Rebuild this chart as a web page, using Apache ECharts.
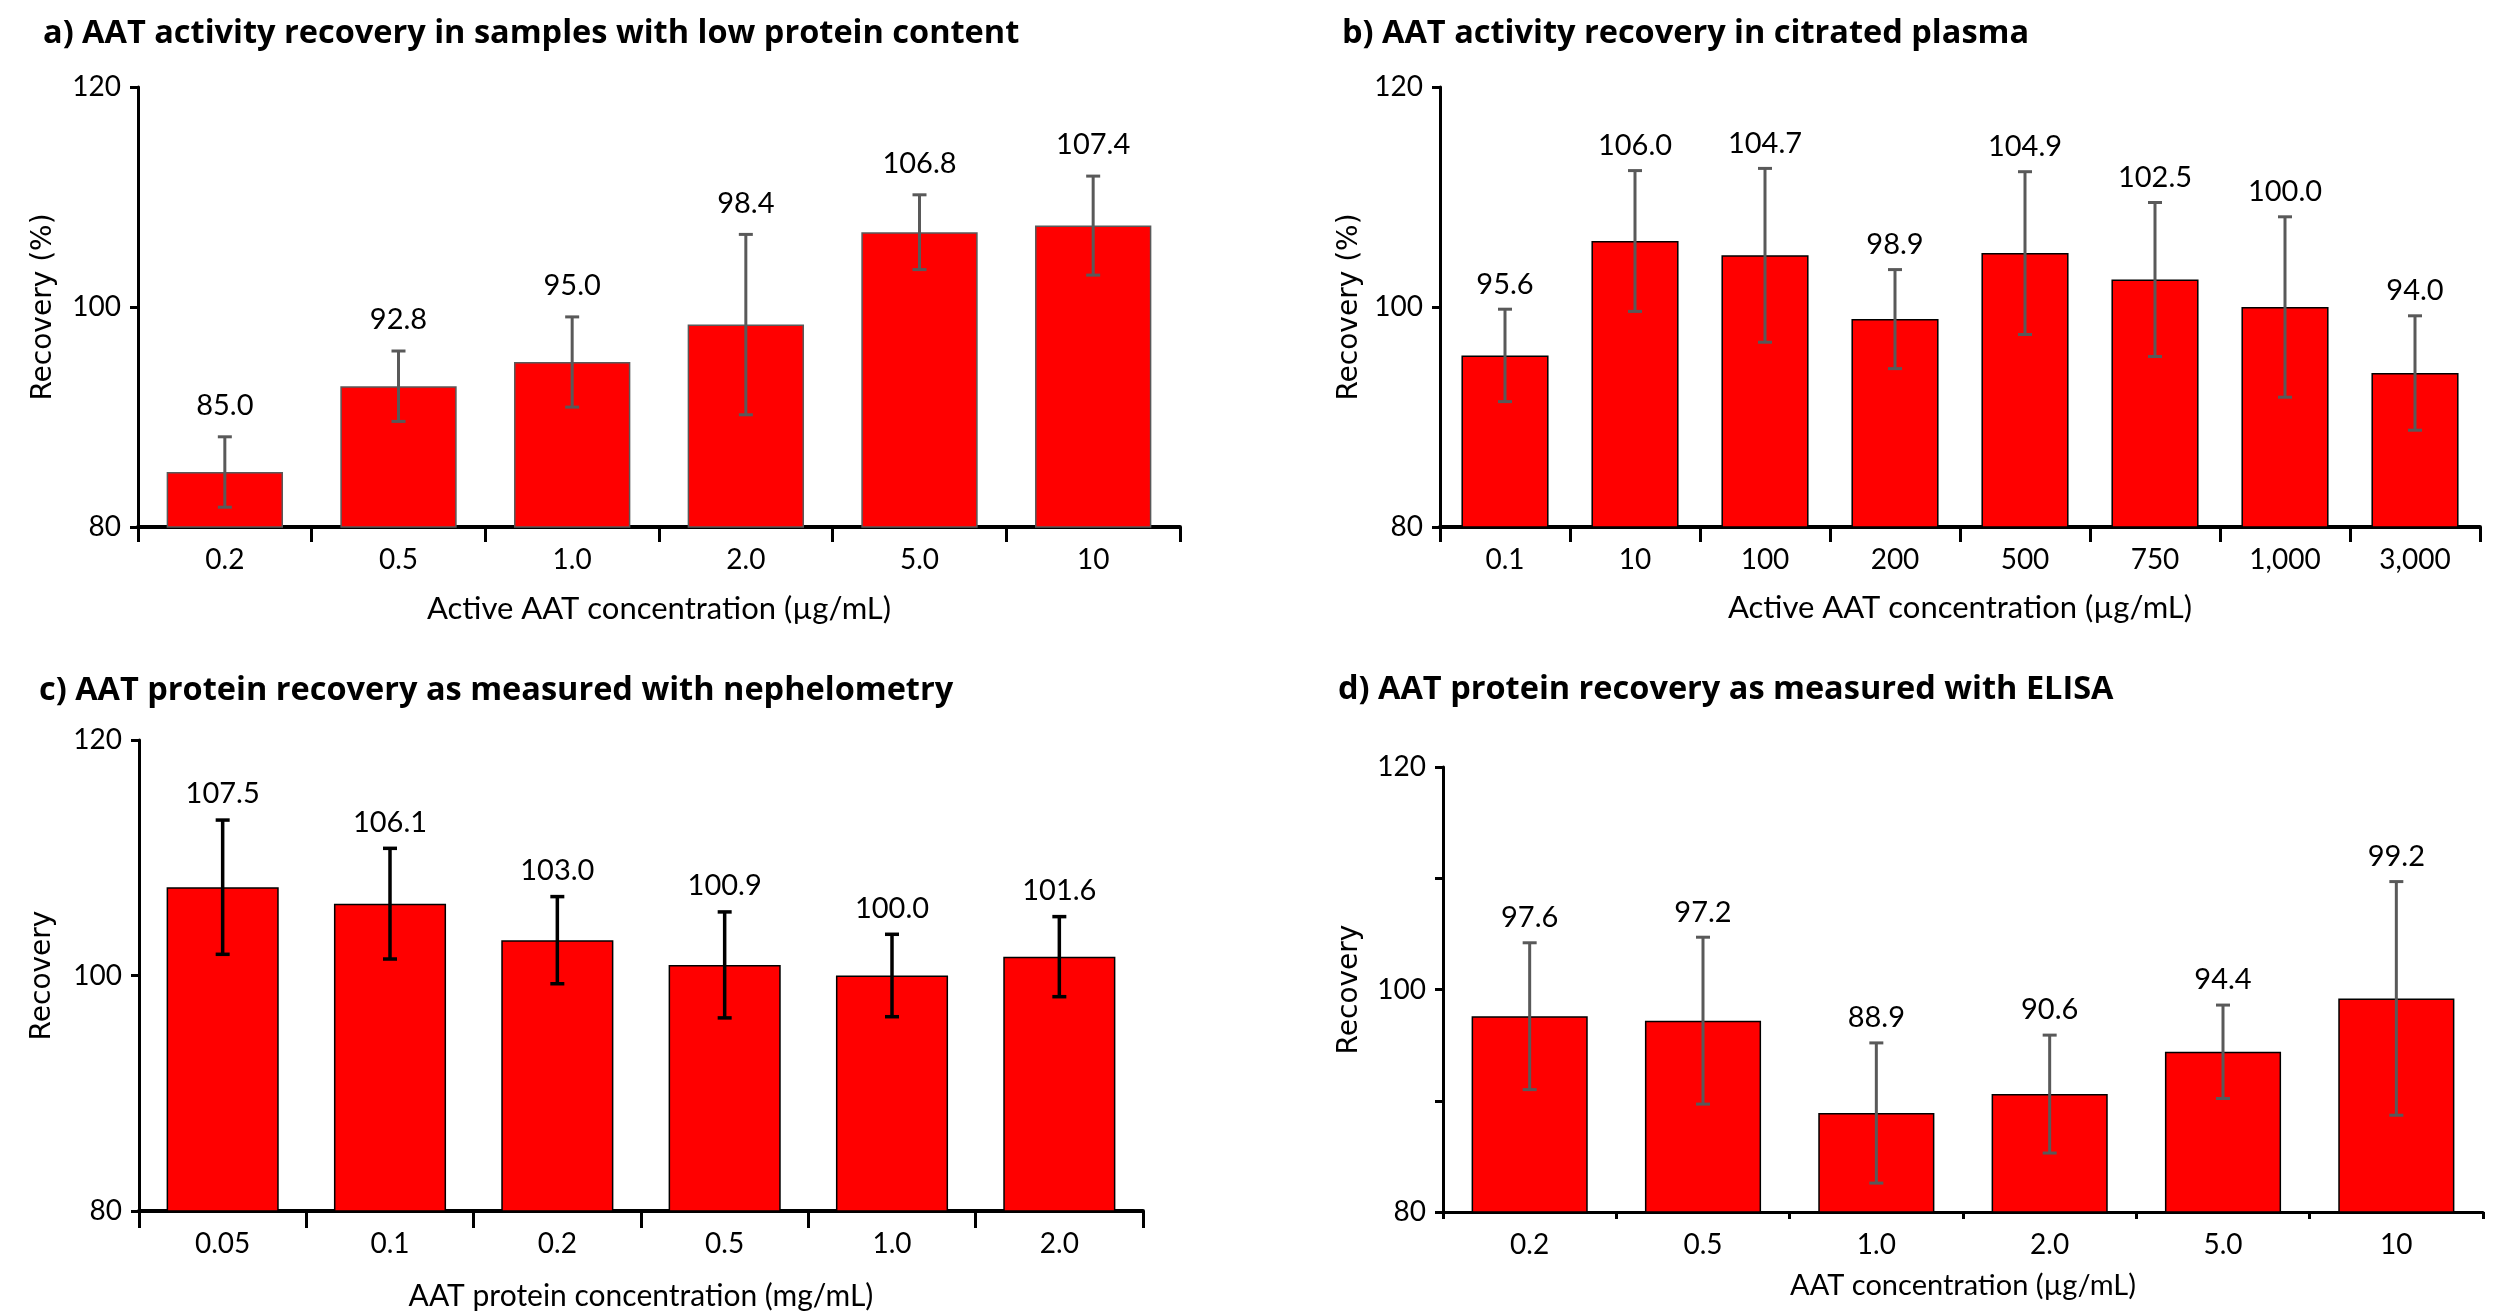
<!DOCTYPE html>
<html>
<head>
<meta charset="utf-8">
<script src="https://cdn.jsdelivr.net/npm/echarts@6/dist/echarts.min.js"></script>
<style>
html,body{margin:0;padding:0;background:#fff;}
#chart{width:2508px;height:1316px;}
</style>
</head>
<body>
<div id="chart"></div>
<script>
// ---- Data ----
const catsA = ['0.2','0.5','1.0','2.0','5.0','10'];
const valsA = [85.0, 92.8, 95.0, 98.4, 106.8, 107.4];
const errA  = [3.2, 3.2, 4.1, 8.2, 3.4, 4.5];

const catsB = ['0.1','10','100','200','500','750','1,000','3,000'];
const valsB = [95.6, 106.0, 104.7, 98.9, 104.9, 102.5, 100.0, 94.0];
const errB  = [4.2, 6.4, 7.9, 4.5, 7.4, 7.0, 8.2, 5.2];

const catsC = ['0.05','0.1','0.2','0.5','1.0','2.0'];
const valsC = [107.5, 106.1, 103.0, 100.9, 100.0, 101.6];
const errC  = [5.7, 4.7, 3.7, 4.5, 3.5, 3.4];

const catsD = ['0.2','0.5','1.0','2.0','5.0','10'];
const valsD = [97.6, 97.2, 88.9, 90.6, 94.4, 99.2];
const errD  = [6.6, 7.5, 6.3, 5.3, 4.2, 10.5];

const yLabels = [80, 100, 120];

const titles = [
  'a) AAT activity recovery in samples with low protein content',
  'b) AAT activity recovery in citrated plasma',
  'c) AAT protein recovery as measured with nephelometry',
  'd) AAT protein recovery as measured with ELISA'
];
const xNames = [
  'Active AAT concentration (\u00b5g/mL)',
  'Active AAT concentration (\u00b5g/mL)',
  'AAT protein concentration (mg/mL)',
  'AAT concentration (\u00b5g/mL)'
];
const yNames = ['Recovery (%)', 'Recovery (%)', 'Recovery', 'Recovery'];

// ---- Chart ----
const FONT = 'Lato';
const chart = echarts.init(document.getElementById('chart'), null, {renderer:'canvas'});

const grids = [
  {left:138, top:87, width:1042, height:440},
  {left:1440, top:87, width:1040, height:440},
  {left:139, top:740, width:1004, height:471},
  {left:1443, top:767, width:1040, height:445}
];

const panels = [
  {cats:catsA, vals:valsA, errs:errA, errColor:'#595959', border:'#595959', axisW:4, xTick:15, yInt:20, nameGap:66, nameSize:31, yNameGap:80, labOff:31, errW:3},
  {cats:catsB, vals:valsB, errs:errB, errColor:'#595959', border:'#000', axisW:4, xTick:15, yInt:20, nameGap:65, nameSize:31, yNameGap:76, labOff:25, errW:3},
  {cats:catsC, vals:valsC, errs:errC, errColor:'#000', border:'#000', axisW:4, xTick:17, yInt:20, nameGap:70, nameSize:30, yNameGap:82, labOff:26, errW:3.5},
  {cats:catsD, vals:valsD, errs:errD, errColor:'#595959', border:'#000', axisW:3, xTick:7, yInt:10, nameGap:59, nameSize:29, yNameGap:79, labOff:25, errW:3}
];

function errRender(p) {
  return function(params, api) {
    const x = api.value(0), v = api.value(1), e = api.value(2);
    const top = api.coord([x, v + e]);
    const bot = api.coord([x, v - e]);
    const half = 7;
    const st = {stroke:p.errColor, lineWidth:p.errW};
    return {type:'group', children:[
      {type:'line', shape:{x1:top[0], y1:top[1], x2:bot[0], y2:bot[1]}, style:st},
      {type:'line', shape:{x1:top[0]-half, y1:top[1], x2:top[0]+half, y2:top[1]}, style:st},
      {type:'line', shape:{x1:bot[0]-half, y1:bot[1], x2:bot[0]+half, y2:bot[1]}, style:st},
      {type:'text', x:top[0], y:top[1]-p.labOff, style:{
        text:v.toFixed(1), align:'center', verticalAlign:'middle',
        fontFamily:FONT, fontSize:29, fill:'#000'}}
    ]};
  };
}

const option = {
  backgroundColor:'#fff',
  animation:false,
  title: titles.map((t,i)=>({
    text:t,
    left:[38,1337,34,1333][i],
    top:[12,12,669,668][i],
    textStyle:{fontFamily:'Open Sans', fontWeight:'bold', fontSize:32.5, color:'#000'}
  })),
  grid: grids,
  xAxis: panels.map((p,i)=>({
    type:'category', gridIndex:i, data:p.cats,
    boundaryGap:true,
    name:xNames[i], nameLocation:'middle', nameGap:p.nameGap,
    nameTextStyle:{fontFamily:FONT, fontSize:p.nameSize, color:'#000'},
    axisLine:{show:true, lineStyle:{color:'#000', width:p.axisW}},
    axisTick:{show:true, alignWithLabel:false, length:p.xTick, lineStyle:{color:'#000', width:3}},
    axisLabel:{fontFamily:FONT, fontSize:28, color:'#000', margin:19, interval:0},
    splitLine:{show:false}
  })),
  yAxis: panels.map((p,i)=>({
    type:'value', gridIndex:i, min:80, max:120, interval:p.yInt,
    name:yNames[i], nameLocation:'middle', nameGap:p.yNameGap, nameRotate:90,
    nameTextStyle:{fontFamily:'DejaVu Sans', fontSize:28, color:'#000'},
    axisLine:{show:true, lineStyle:{color:'#000', width:3}},
    axisTick:{show:true, length:8, lineStyle:{color:'#000', width:3}},
    axisLabel:{fontFamily:FONT, fontSize:28, color:'#000', margin:17,
      formatter:(v)=> yLabels.indexOf(v) >= 0 ? String(v) : ''},
    splitLine:{show:false}
  })),
  series: [].concat(...panels.map((p,i)=>[
    {
      type:'bar', xAxisIndex:i, yAxisIndex:i, data:p.vals,
      barWidth:'67%',
      itemStyle:{color:'#ff0000', borderColor:p.border, borderWidth:1.5},
      z:2
    },
    {
      type:'custom', xAxisIndex:i, yAxisIndex:i,
      data:p.vals.map((v,j)=>[j, v, p.errs[j]]),
      renderItem:errRender(p),
      z:5
    }
  ]))
};
chart.setOption(option);
</script>
</body>
</html>
